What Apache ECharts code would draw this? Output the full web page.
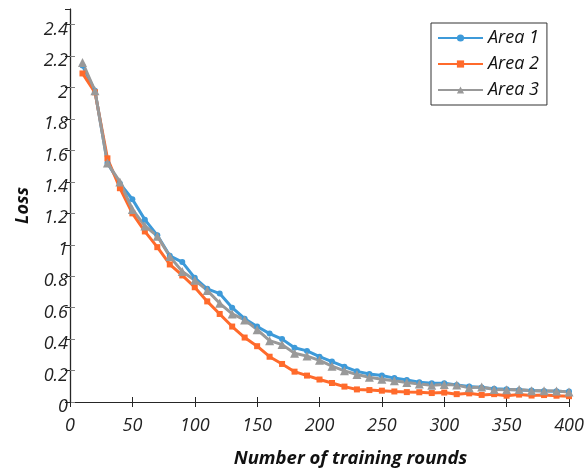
<!DOCTYPE html>
<html>
<head>
<meta charset="utf-8">
<script src="https://cdn.jsdelivr.net/npm/echarts@6/dist/echarts.min.js"></script>
<style>
  html, body { margin: 0; padding: 0; background: #fff; }
  #chart { width: 585px; height: 468px; }
</style>
</head>
<body>
<div id="chart"></div>
<script>
// Training rounds (x) and loss per area
const rounds = [10,20,30,40,50,60,70,80,90,100,110,120,130,140,150,160,170,180,190,200,
                210,220,230,240,250,260,270,280,290,300,310,320,330,340,350,360,370,380,390,400];

const area1 = [2.14,1.98,1.52,1.39,1.29,1.16,1.06,0.93,0.89,0.79,0.72,0.69,0.60,0.53,0.48,0.435,0.40,0.345,0.325,0.288,
               0.257,0.225,0.195,0.178,0.168,0.152,0.14,0.126,0.119,0.12,0.108,0.098,0.092,0.085,0.081,0.077,0.073,0.07,0.068,0.066];

const area2 = [2.09,1.97,1.55,1.36,1.20,1.085,0.985,0.875,0.805,0.73,0.64,0.56,0.48,0.41,0.355,0.288,0.242,0.193,0.168,0.143,
               0.121,0.098,0.08,0.076,0.072,0.067,0.063,0.062,0.057,0.06,0.05,0.055,0.045,0.05,0.04,0.047,0.041,0.044,0.04,0.037];

const area3 = [2.16,1.98,1.52,1.40,1.225,1.12,1.055,0.925,0.83,0.775,0.71,0.628,0.56,0.522,0.46,0.39,0.365,0.31,0.292,0.265,
               0.228,0.198,0.175,0.158,0.145,0.135,0.124,0.114,0.106,0.112,0.108,0.09,0.095,0.08,0.078,0.08,0.072,0.072,0.07,0.064];

const seriesNames = ['Area 1', 'Area 2', 'Area 3'];

const FONT = '"Open Sans", "DejaVu Sans", sans-serif';
const pairs = ys => rounds.map((r, i) => [r, ys[i]]);

const chart = echarts.init(document.getElementById('chart'), null, { renderer: 'canvas' });

const frameAxis = (color) => ({
  axisLine: { show: true, lineStyle: { color: color, width: 1.2 } },
  axisTick: { show: true, inside: true, length: 5, lineStyle: { color: color, width: 1 } },
  splitLine: { show: false }
});

chart.setOption({
  animation: false,
  backgroundColor: '#fff',
  grid: { left: 70, right: 16, top: 9, bottom: 66, outerBoundsMode: 'none', containLabel: false },
  legend: {
    data: seriesNames,
    orient: 'vertical',
    left: 431,
    top: 23,
    itemWidth: 45,
    itemHeight: 9,
    itemGap: 8,
    padding: [6, 8, 6, 6],
    backgroundColor: '#fff',
    borderColor: '#333',
    borderWidth: 1,
    borderRadius: 0,
    textStyle: { fontFamily: FONT, fontStyle: 'italic', fontSize: 18, color: '#111' }
  },
  xAxis: [
    Object.assign(frameAxis('#262626'), {
      type: 'value', min: 0, max: 400, interval: 50,
      position: 'bottom',
      name: 'Number of training rounds',
      nameLocation: 'middle',
      nameGap: 47,
      nameTextStyle: { fontFamily: FONT, fontStyle: 'italic', fontWeight: 'bold', fontSize: 18.5, color: '#111', padding: [0, 0, 0, 62] },
      axisLabel: { fontFamily: FONT, fontStyle: 'italic', fontSize: 18, color: '#222', margin: 15 }
    }),
    Object.assign(frameAxis('#262626'), {
      type: 'value', min: 0, max: 400, interval: 50,
      position: 'top',
      axisLabel: { show: false }
    })
  ],
  yAxis: [
    Object.assign(frameAxis('#808080'), {
      type: 'value', min: 0, max: 2.5, interval: 0.2,
      position: 'left',
      name: 'Loss',
      nameLocation: 'middle',
      nameGap: 38,
      nameTextStyle: { fontFamily: FONT, fontStyle: 'italic', fontWeight: 'bold', fontSize: 18, color: '#111' },
      axisLabel: {
        fontFamily: FONT, fontStyle: 'italic', fontSize: 18, color: '#222', margin: 2,
        showMaxLabel: false, verticalAlign: 'top', lineHeight: 10,
        formatter: v => String(+v.toFixed(1))
      }
    }),
    Object.assign(frameAxis('#262626'), {
      type: 'value', min: 0, max: 2.5, interval: 0.2,
      position: 'right',
      axisLabel: { show: false }
    })
  ],
  series: [
    {
      name: seriesNames[0], type: 'line', data: pairs(area1),
      symbol: 'circle', symbolSize: 6,
      lineStyle: { color: '#3d9ad9', width: 3 },
      itemStyle: { color: '#3d9ad9' }
    },
    {
      name: seriesNames[1], type: 'line', data: pairs(area2),
      symbol: 'rect', symbolSize: 6,
      lineStyle: { color: '#ff6a2b', width: 3 },
      itemStyle: { color: '#ff6a2b' }
    },
    {
      name: seriesNames[2], type: 'line', data: pairs(area3),
      symbol: 'triangle', symbolSize: 9,
      lineStyle: { color: '#999999', width: 3 },
      itemStyle: { color: '#999999' }
    }
  ]
});
</script>
</body>
</html>
